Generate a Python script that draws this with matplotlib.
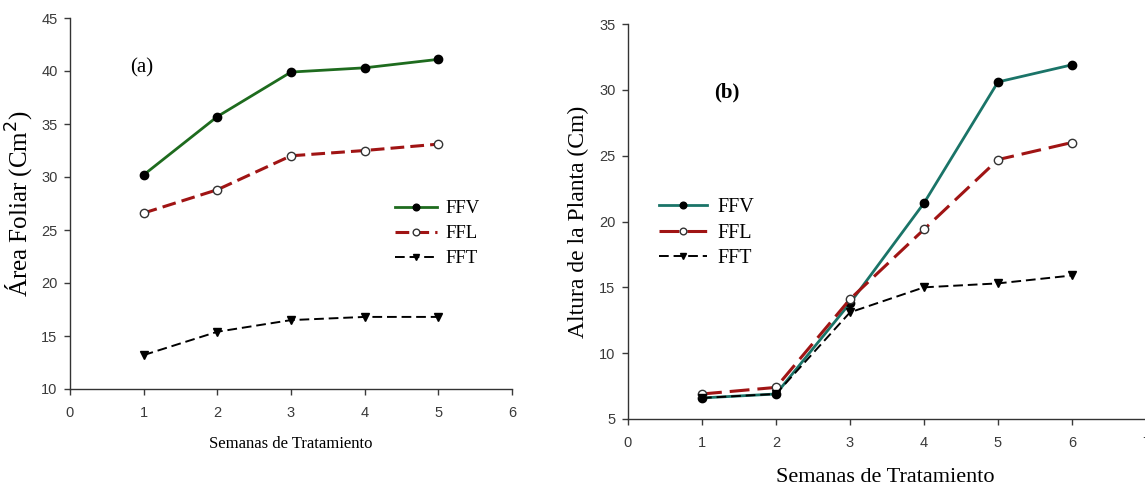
import matplotlib
matplotlib.use("Agg")
import matplotlib.pyplot as plt

weeks_a = [1, 2, 3, 4, 5]
ffv_a = [30.2, 35.7, 39.9, 40.3, 41.1]
ffl_a = [26.6, 28.8, 32.0, 32.5, 33.1]
fft_a = [13.2, 15.4, 16.5, 16.8, 16.8]

weeks_b = [1, 2, 3, 4, 5, 6]
ffv_b = [6.6, 6.9, 13.8, 21.4, 30.6, 31.9]
ffl_b = [6.9, 7.4, 14.1, 19.4, 24.7, 26.0]
fft_b = [6.6, 6.9, 13.1, 15.0, 15.3, 15.9]

series_names = ["FFV", "FFL", "FFT"]

serif = "Liberation Serif"
sans = "Liberation Sans"

W, H = 1145, 487
fig = plt.figure(figsize=(W / 100, H / 100), dpi=100)
axA = fig.add_axes([70/W, 1-389/H, (512-70)/W, (389-18)/H])
axB = fig.add_axes([628/W, 1-419/H, (1146-628)/W, (419-24)/H])

green = "#1e6b1e"
teal = "#1a7468"
red = "#a01414"

def style(ax, xlim, ylim, yticks):
    ax.set_xlim(*xlim)
    ax.set_ylim(*ylim)
    ax.set_yticks(yticks)
    ax.set_xticks(range(int(xlim[0]), int(xlim[1]) + 1))
    for s in ["top", "right"]:
        ax.spines[s].set_visible(False)
    for s in ["left", "bottom"]:
        ax.spines[s].set_color("#333333")
        ax.spines[s].set_linewidth(1.0)
    ax.tick_params(direction="out", length=4, width=1, colors="#3a3a3a",
                   labelsize=10.5)
    ax.tick_params(axis="x", pad=8)
    ax.tick_params(axis="y", pad=5)
    for lab in ax.get_xticklabels() + ax.get_yticklabels():
        lab.set_family(sans)
        lab.set_color("#3a3a3a")

# Panel (a)
axA.plot(weeks_a, ffv_a, color=green, lw=2, marker="o", ms=6,
         mfc="black", mec="black", label=series_names[0], clip_on=False)
axA.plot(weeks_a, ffl_a, color=red, lw=2.2, ls=(0, (4.5, 2)), marker="o", ms=6,
         mfc="white", mec="#333333", label=series_names[1], clip_on=False)
axA.plot(weeks_a, fft_a, color="black", lw=1.4, ls=(0, (5, 2.5)), marker="v", ms=6,
         mfc="black", mec="black", label=series_names[2], clip_on=False)
style(axA, (0, 6), (10, 45), range(10, 46, 5))
axA.set_xlabel("Semanas de Tratamiento", family=serif, fontsize=12)
axA.xaxis.set_label_coords(0.5, -(444 - 389) / (389 - 18))
axA.xaxis.label.set_va("center")
axA.set_ylabel("Área Foliar (Cm$^{2}$)", family=serif, fontsize=18)
axA.yaxis.set_label_coords((20 - 70) / 442, 0.5)
axA.yaxis.label.set_va("center")
fig.text(142/W, 1-68/H, "(a)", ha="center", va="center", fontsize=15, family=serif)
axA.legend(loc="upper left", bbox_to_anchor=(395/W, 1-200/H),
           bbox_transform=fig.transFigure, frameon=False,
           prop={"family": serif, "size": 13.5}, handlelength=2.24,
           handletextpad=0.43, labelspacing=0.42, borderaxespad=0, borderpad=0,
           markerscale=0.8)

# Panel (b)
axB.plot(weeks_b, ffv_b, color=teal, lw=2, marker="o", ms=6,
         mfc="black", mec="black", label=series_names[0], clip_on=False)
axB.plot(weeks_b, ffl_b, color=red, lw=2.2, ls=(0, (6.5, 2.6)), marker="o", ms=6,
         mfc="white", mec="#333333", label=series_names[1], clip_on=False)
axB.plot(weeks_b, fft_b, color="black", lw=1.4, ls=(0, (5, 2.5)), marker="v", ms=6,
         mfc="black", mec="black", label=series_names[2], clip_on=False)
style(axB, (0, 7), (5, 35), range(5, 36, 5))
axB.set_xlabel("Semanas de Tratamiento", family=serif, fontsize=16)
axB.xaxis.set_label_coords(0.5 + (885 - 887) / 518, -(477 - 419) / (419 - 24))
axB.xaxis.label.set_va("center")
axB.set_ylabel("Altura de la Planta (Cm)", family=serif, fontsize=17)
axB.yaxis.set_label_coords((578 - 628) / 518, 0.5)
axB.yaxis.label.set_va("center")
fig.text(727/W, 1-92/H, "(b)", ha="center", va="center", fontsize=15,
         family=serif, fontweight="bold")
axB.legend(loc="upper left", bbox_to_anchor=(659/W, 1-198/H),
           bbox_transform=fig.transFigure, frameon=False,
           prop={"family": serif, "size": 14.5}, handlelength=2.4,
           handletextpad=0.5, labelspacing=0.32, borderaxespad=0, borderpad=0,
           markerscale=0.8)

fig.savefig("out.png", dpi=100)
